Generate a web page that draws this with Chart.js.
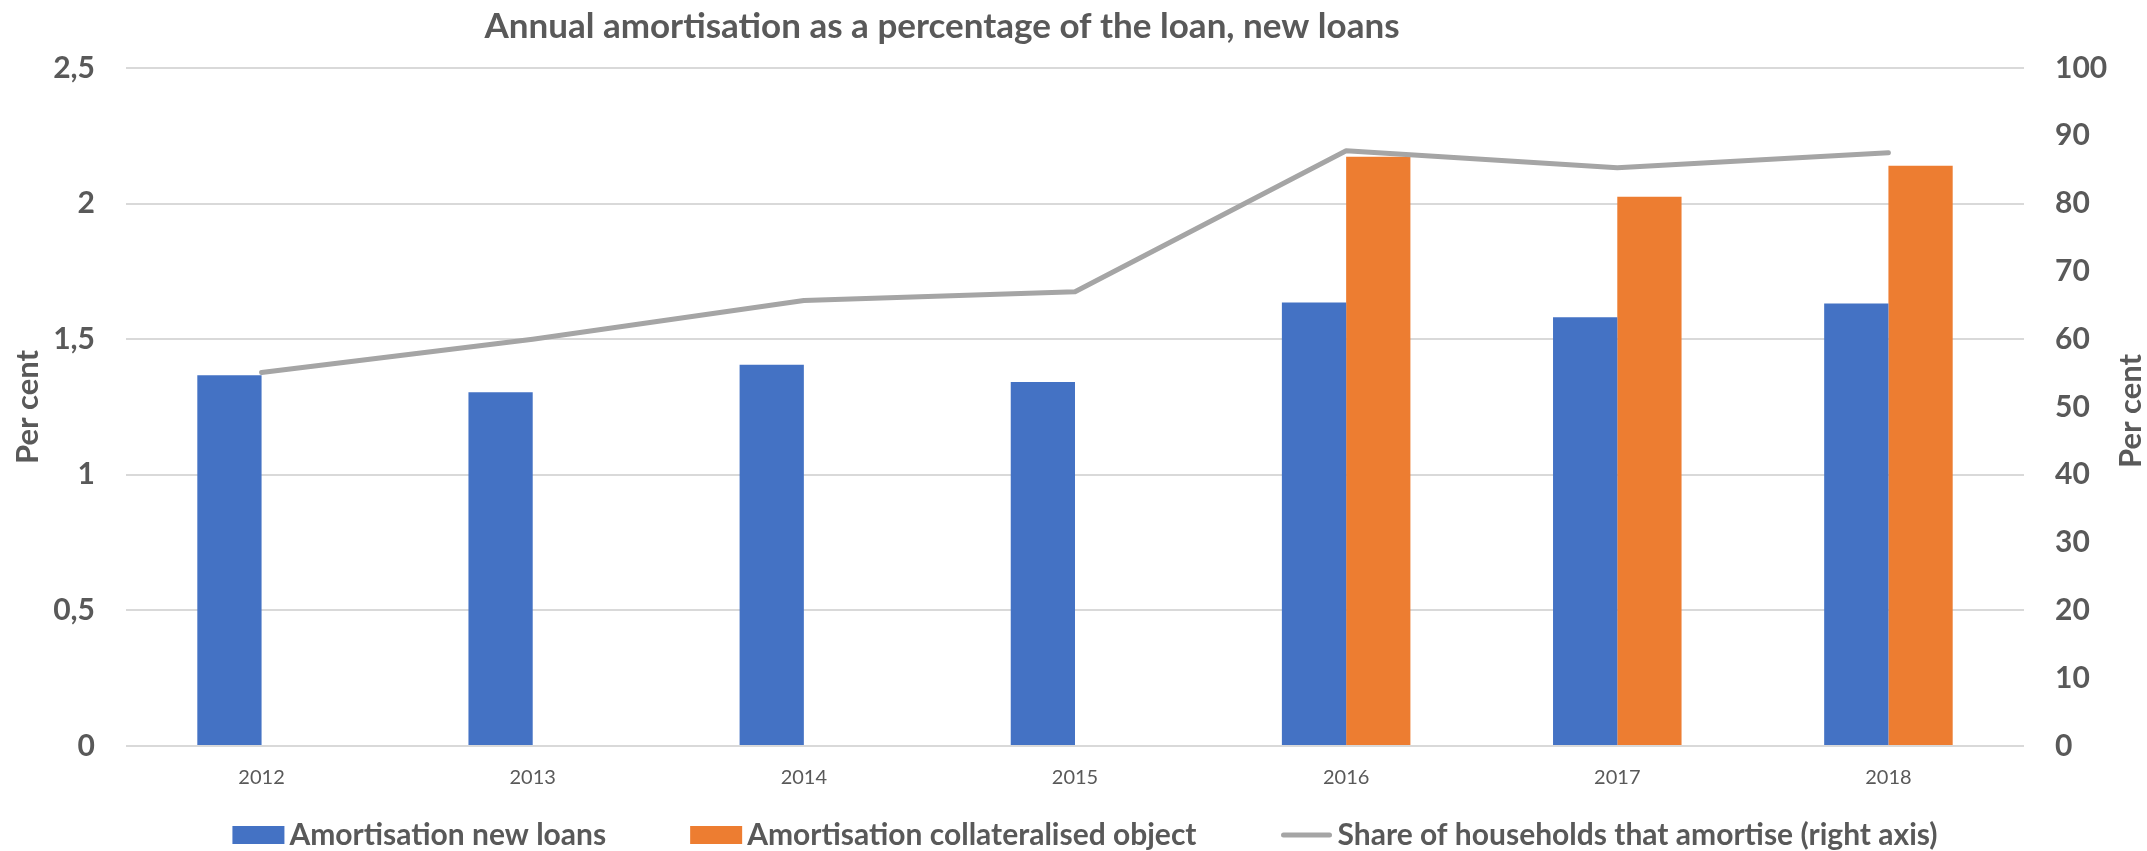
<!DOCTYPE html>
<html>
<head>
<meta charset="utf-8">
<title>Annual amortisation</title>
<script src="https://cdn.jsdelivr.net/npm/chart.js@4.4.1/dist/chart.umd.min.js"></script>
<style>
  html, body { margin: 0; padding: 0; background: #fff; }
  #wrap { width: 2147px; height: 851px; }
</style>
</head>
<body>
<div id="wrap"><canvas id="amortChart" width="2147" height="851"></canvas></div>
<script>
// Data
const years = ['2012', '2013', '2014', '2015', '2016', '2017', '2018'];
const newLoans = [1.367, 1.304, 1.406, 1.342, 1.635, 1.581, 1.632];
const collateralised = [null, null, null, null, 2.173, 2.025, 2.140];
const shareAmortising = [55.1, 60.0, 65.7, 67.0, 87.8, 85.3, 87.5];
const leftTicks = ['0', '0,5', '1', '1,5', '2', '2,5'];
const rightTicks = ['0', '10', '20', '30', '40', '50', '60', '70', '80', '90', '100'];

const chartTitle = 'Annual amortisation as a percentage of the loan, new loans';
const axisTitle = 'Per cent';
const FONT = 'Lato, "Open Sans", sans-serif';
const TEXT = '#595959';
const GRID = '#D9D9D9';

Chart.defaults.font.family = FONT;
Chart.defaults.color = TEXT;

// Title, right axis title and legend are painted after the chart
const overlay = {
    id: 'overlay',
    afterDraw(chart) {
        const ctx = chart.ctx;
        ctx.save();
        ctx.fillStyle = TEXT;

        // chart title
        ctx.font = 'bold 35px ' + FONT;
        ctx.textAlign = 'center';
        ctx.textBaseline = 'alphabetic';
        ctx.fillText(chartTitle, 942, 38);

        // right axis title, reads bottom to top like the left one
        ctx.save();
        ctx.translate(2131, 411);
        ctx.rotate(-Math.PI / 2);
        ctx.font = 'bold 31px ' + FONT;
        ctx.textBaseline = 'middle';
        ctx.fillText(axisTitle, 0, 0);
        ctx.restore();

        // legend
        const ds = chart.data.datasets;
        const boxW = 52, boxH = 18, gapText = 5, gapItem = 84;
        const yMid = 835;
        ctx.font = 'bold 30px ' + FONT;
        ctx.textAlign = 'left';
        const widths = ds.map(d => boxW + gapText + ctx.measureText(d.label).width);
        const total = widths.reduce((a, b) => a + b, 0) + gapItem * (ds.length - 1);
        let x = 1085 - total / 2;
        ds.forEach((d, i) => {
            if (d.type === 'line') {
                ctx.strokeStyle = d.borderColor;
                ctx.lineWidth = 5;
                ctx.lineCap = 'round';
                ctx.beginPath();
                ctx.moveTo(x + 3, yMid);
                ctx.lineTo(x + boxW - 3, yMid);
                ctx.stroke();
            } else {
                ctx.fillStyle = d.backgroundColor;
                ctx.fillRect(x, yMid - boxH / 2, boxW, boxH);
            }
            ctx.fillStyle = TEXT;
            ctx.fillText(d.label, x + boxW + gapText, yMid + 10);
            x += widths[i] + gapItem;
        });
        ctx.restore();
    }
};

const ctx = document.getElementById('amortChart').getContext('2d');
new Chart(ctx, {
    data: {
        labels: years,
        datasets: [{
            type: 'bar',
            label: 'Amortisation new loans',
            data: newLoans,
            backgroundColor: '#4472C4',
            yAxisID: 'y',
            order: 1,
            categoryPercentage: 0.474,
            barPercentage: 1
        }, {
            type: 'bar',
            label: 'Amortisation collateralised object',
            data: collateralised,
            backgroundColor: '#ED7D31',
            yAxisID: 'y',
            order: 1,
            categoryPercentage: 0.474,
            barPercentage: 1
        }, {
            type: 'line',
            label: 'Share of households that amortise (right axis)',
            data: shareAmortising,
            borderColor: '#A5A5A5',
            backgroundColor: '#A5A5A5',
            borderWidth: 5,
            borderCapStyle: 'round',
            borderJoinStyle: 'round',
            pointRadius: 0,
            tension: 0,
            yAxisID: 'y1',
            order: 0
        }]
    },
    options: {
        responsive: false,
        animation: false,
        layout: { padding: { top: 68, bottom: 61, left: 0, right: 0 } },
        plugins: {
            legend: { display: false },
            title: { display: false },
            tooltip: { enabled: false }
        },
        scales: {
            x: {
                grid: { display: false, drawTicks: false },
                border: { display: false },
                ticks: { font: { size: 20 }, padding: 20, color: TEXT },
                afterFit(scale) { scale.height = 44; }
            },
            y: {
                position: 'left',
                min: 0,
                max: 2.5,
                ticks: {
                    stepSize: 0.5,
                    padding: 31,
                    font: { size: 30, weight: 'bold' },
                    color: TEXT,
                    callback: (v, i) => leftTicks[i]
                },
                grid: { color: GRID, lineWidth: 2, drawTicks: false },
                border: { display: false },
                title: {
                    display: true,
                    text: axisTitle,
                    font: { size: 31, weight: 'bold' },
                    color: TEXT,
                    padding: { top: 9, bottom: 0 }
                },
                afterFit(scale) { scale.width = 126; }
            },
            y1: {
                position: 'right',
                min: 0,
                max: 100,
                ticks: {
                    stepSize: 10,
                    padding: 31,
                    font: { size: 30, weight: 'bold' },
                    color: TEXT,
                    callback: (v, i) => rightTicks[i]
                },
                grid: { drawOnChartArea: false, drawTicks: false },
                border: { display: false },
                afterFit(scale) { scale.width = 123; }
            }
        }
    },
    plugins: [overlay]
});
</script>
</body>
</html>
